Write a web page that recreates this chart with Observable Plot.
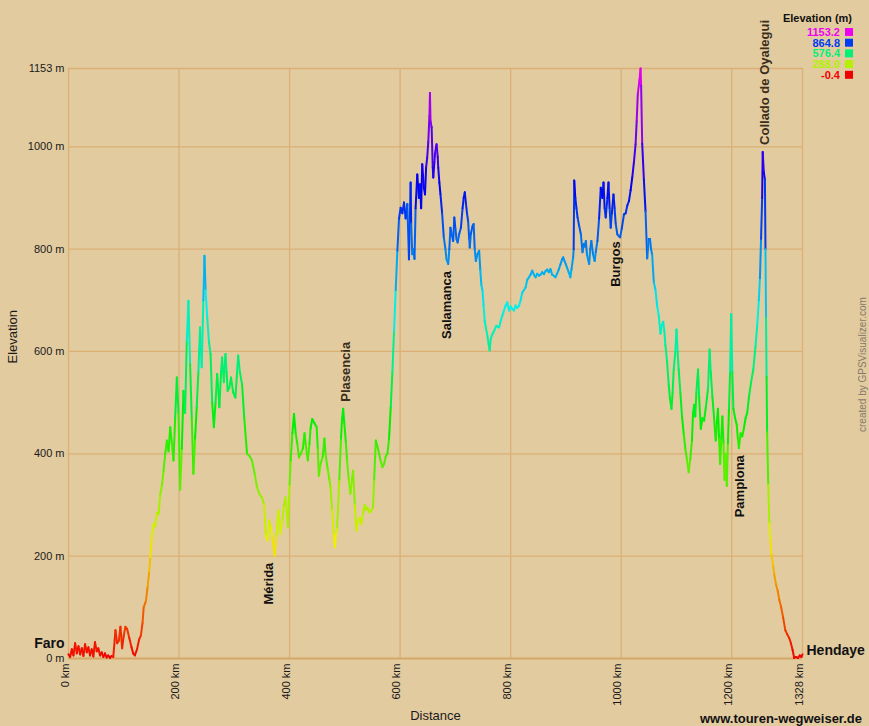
<!DOCTYPE html>
<html><head><meta charset="utf-8">
<script src="https://cdn.jsdelivr.net/npm/d3@7"></script>
<script src="https://cdn.jsdelivr.net/npm/@observablehq/plot@0.6"></script>
<style>body{margin:0;background:#e3cba0;} svg{display:block}</style>
</head><body><div id="chart"></div>
<script>
// [distance km, elevation m]
const profile = [
[0,8],[3,3],[6,18],[9,6],[12,30],[15,10],[18,24],[21,8],[24,20],[27,5],[30,28],[33,12],[36,22],[39,6],[42,18],[45,4],[48,32],[51,14],[54,20],[57,6],[60,12],[63,3],[66,10],[69,2],[72,6],[75,1],[78,5],[81,3],
[85,55],[88,30],[91,35],[94,62],[97,20],[100,45],[103,62],[106,58],[110,40],[114,22],[117,10],[120,6],[124,18],[128,38],[131,45],[134,70],[136,100],[140,112],[143,139],[146,170],[148,198],
[151,240],[154,263],[157,258],[160,285],[163,283],[166,320],[169,338],[172,367],[175,400],[178,426],[181,405],[184,452],[187,420],[190,387],[193,470],[196,549],[199,480],[202,330],[205,410],[208,523],
[211,480],[214,620],[217,699],[220,575],[223,470],[226,361],[229,430],[232,491],[235,560],[238,647],[241,569],[244,700],[246,787],[248,720],[251,667],[254,620],[257,595],[260,500],[263,452],[266,500],
[269,556],[272,510],[273,491],[276,560],[278,588],[281,540],[284,595],[286,560],[288,523],[291,530],[294,549],[298,520],[302,510],[305,560],[307,592],[310,560],[314,536],[318,470],[323,400],[328,395],
[332,387],[337,360],[341,335],[346,320],[350,315],[354,300],[357,240],[360,230],[363,270],[366,256],[369,235],[373,201],[376,240],[380,289],[383,243],[387,270],[390,300],[393,315],[397,256],[400,340],
[402,387],[405,440],[408,478],[411,440],[414,420],[417,393],[420,400],[424,410],[427,440],[429,419],[433,387],[436,420],[438,450],[441,468],[445,460],[449,452],[451,410],[453,357],[456,380],[460,395],
[463,430],[465,400],[469,370],[472,350],[474,335],[477,290],[480,240],[482,217],[484,245],[486,256],[490,350],[493,430],[495,470],[497,488],[499,460],[502,420],[504,387],[507,350],[510,322],[513,350],
[515,367],[518,300],[521,250],[524,270],[527,275],[530,263],[533,285],[536,300],[539,290],[541,295],[545,285],[548,290],[551,295],[553,350],[556,426],[560,410],[564,390],[568,374],[571,380],[574,395],
[577,400],[580,430],[583,491],[586,560],[589,640],[592,720],[595,797],[598,860],[601,881],[604,870],[607,891],[610,860],[613,888],[616,780],[619,930],[620,850],[622,790],[624,800],[626,781],[628,880],
[631,946],[634,900],[636,927],[638,880],[640,966],[643,920],[645,907],[647,960],[649,979],[651,1010],[653,1060],[654,1105],[655,1050],[657,1038],[659,960],[660,940],[662,970],[663,986],[665,1000],[666,1005],
[668,980],[669,959],[671,930],[673,907],[676,870],[679,823],[682,800],[684,780],[687,771],[689,800],[691,842],[693,830],[696,816],[698,862],[700,840],[702,820],[704,813],[707,830],[710,842],[713,880],
[715,900],[717,911],[719,890],[721,870],[723,855],[725,820],[726,803],[728,830],[731,845],[733,849],[735,800],[737,777],[740,790],[743,797],[745,760],[747,730],[749,719],[751,690],[753,660],[755,647],
[758,630],[760,615],[762,602],[764,625],[767,634],[770,640],[774,650],[777,648],[779,647],[782,660],[785,670],[788,680],[791,690],[794,696],[797,680],[800,688],[803,683],[806,680],[809,690],[812,685],
[815,689],[818,700],[821,715],[824,720],[827,725],[830,740],[833,745],[836,750],[839,758],[842,750],[845,745],[848,752],[851,748],[854,750],[857,755],[860,751],[863,757],[866,760],[869,755],[872,761],
[875,750],[878,748],[881,745],[884,752],[887,760],[890,770],[893,780],[895,784],[898,775],[900,770],[902,764],[905,755],[908,745],[910,760],[913,784],[914,800],[915,934],[917,900],[919,880],[921,862],
[924,845],[927,829],[930,794],[932,810],[934,805],[936,816],[938,790],[940,780],[942,771],[944,800],[946,816],[949,790],[952,777],[954,795],[957,816],[960,860],[963,920],[966,900],[968,930],[970,880],
[972,862],[975,900],[977,930],[979,880],[981,842],[983,870],[986,907],[988,880],[990,850],[993,829],[996,825],[998,823],[1001,840],[1005,868],[1008,870],[1011,885],[1014,894],[1017,915],[1020,940],[1023,970],
[1026,1005],[1028,1050],[1030,1103],[1033,1130],[1035,1153],[1036,1120],[1038,1006],[1041,936],[1044,874],[1047,782],[1050,820],[1052,820],[1054,800],[1056,789],[1059,735],[1062,720],[1065,689],[1068,670],[1071,635],[1073,650],
[1076,658],[1078,640],[1080,612],[1083,580],[1086,534],[1088,510],[1091,488],[1093,520],[1095,565],[1098,600],[1100,643],[1102,600],[1104,565],[1107,520],[1110,473],[1113,440],[1116,410],[1119,388],[1122,364],[1125,390],
[1128,426],[1130,480],[1132,496],[1134,473],[1136,520],[1139,565],[1141,510],[1144,449],[1147,470],[1150,465],[1153,490],[1157,527],[1160,604],[1162,560],[1165,511],[1168,470],[1171,426],[1173,460],[1175,488],[1177,430],
[1179,380],[1181,430],[1183,473],[1185,420],[1187,349],[1189,400],[1191,337],[1193,420],[1195,488],[1197,560],[1199,673],[1201,560],[1203,488],[1206,470],[1209,457],[1211,430],[1213,411],[1216,440],[1219,434],[1222,450],
[1225,470],[1228,480],[1231,510],[1235,540],[1239,565],[1243,610],[1246,650],[1249,700],[1251,743],[1253,820],[1255,900],[1256,990],[1258,950],[1260,936],[1261,800],[1262,666],[1263,550],[1264,442],[1266,340],[1268,264],
[1270,230],[1272,202],[1275,180],[1277,164],[1280,145],[1283,133],[1286,115],[1289,102],[1293,80],[1297,55],[1300,48],[1304,40],[1307,30],[1310,17],[1313,1],[1316,3],[1320,1],[1323,6],[1326,3],[1328,8]
];

const xTicks = [0, 200, 400, 600, 800, 1000, 1200, 1328];
const yTicks = [0, 200, 400, 600, 800, 1000, 1153];

const waypointNames = ["Mérida", "Plasencia", "Salamanca", "Burgos", "Pamplona", "Collado de Oyalegui"];
const waypointKm    = [363, 501, 685, 990, 1215, 1260];
const waypointElev  = [201, 488, 771, 829, 411, 990];
const waypointSide  = ["below", "above", "below", "below", "below", "above"];

const endNames = ["Faro", "Hendaye"];
const endKm = [0, 1328];
const endElev = [0, 0];

const legendTitle = "Elevation (m)";
const legendValues = [1153.2, 864.8, 576.4, 288.0, -0.4];
const elevMin = -0.4, elevMax = 1153.2;

// build tables
const segments = d3.pairs(profile).map(([a, b]) => ({x1: a[0], y1: a[1], x2: b[0], y2: b[1], e: (a[1] + b[1]) / 2}));
const waypoints = waypointNames.map((n, i) => ({name: n, km: waypointKm[i], elev: waypointElev[i], side: waypointSide[i]}));
const ends = endNames.map((n, i) => ({name: n, km: endKm[i], elev: endElev[i]}));

const gridColor = "#dab074";
const font = "'Liberation Sans', Arial, sans-serif";
const hueInterp = t => d3.hsl(300 * t, 1, 0.47).toString();

const chart = Plot.plot({
  width: 869, height: 726,
  marginTop: 68, marginRight: 67, marginBottom: 68, marginLeft: 68,
  style: {background: "#e3cba0", fontFamily: font, fontSize: "11px", color: "#1a1a1a", overflow: "visible"},
  x: {domain: [0, 1328], axis: null},
  y: {domain: [0, 1153], axis: null},
  color: {type: "linear", domain: [elevMin, elevMax], interpolate: hueInterp},
  marks: [
    Plot.ruleX(xTicks, {x: d => d, stroke: gridColor, strokeWidth: 1.3}),
    Plot.ruleY(yTicks.filter(d => d > 0), {y: d => d, stroke: gridColor, strokeWidth: 1.3}),
    Plot.ruleY([0], {y: d => d, stroke: "#d6a866", strokeWidth: 2.2}),
    Plot.text(yTicks, {y: d => d, frameAnchor: "left", textAnchor: "end", dx: -4, text: d => d + " m", fill: "#1a1a1a", fontSize: 11}),
    Plot.text(xTicks, {x: d => d, frameAnchor: "bottom", rotate: -90, textAnchor: "end", dy: 5, text: d => d + " km", fill: "#1a1a1a", fontSize: 11}),
    Plot.text(["Elevation"], {frameAnchor: "left", rotate: -90, dx: -56, text: d => d, fontSize: 13, fill: "#1a1a1a"}),
    Plot.text(["Distance"], {frameAnchor: "bottom", dy: 61, text: d => d, fontSize: 13, fill: "#1a1a1a"}),
    Plot.link(segments, {x1: "x1", y1: "y1", x2: "x2", y2: "y2", stroke: "e", strokeWidth: 2, strokeLinecap: "round"}),
    Plot.text(waypoints.filter(d => d.side === "below"), {x: "km", y: "elev", text: "name", rotate: -90, textAnchor: "end", dy: 7, fontSize: 13, fontWeight: "bold", fill: "#111"}),
    Plot.text(waypoints.filter(d => d.side === "above"), {x: "km", y: "elev", text: "name", rotate: -90, textAnchor: "start", dy: -7, fontSize: 13, fontWeight: "bold", fill: "#3a2e1c"}),
    Plot.text(ends.slice(0, 1), {x: "km", y: "elev", text: "name", textAnchor: "end", dx: -4, dy: -15, fontSize: 14, fontWeight: "bold", fill: "#111"}),
    Plot.text(ends.slice(1), {x: "km", y: "elev", text: "name", textAnchor: "start", dx: 4, dy: -8, fontSize: 14, fontWeight: "bold", fill: "#111"})
  ]
});
document.getElementById("chart").appendChild(chart);

// legend using the plot's color scale
let colorOf = hueInterp;
try {
  const cs = chart.scale("color");
  if (cs && cs.apply) colorOf = v => cs.apply(v);
} catch (e) {}
const svg = d3.select(chart);
const lg = svg.append("g").attr("font-family", font);
lg.append("text").attr("x", 852).attr("y", 22).attr("text-anchor", "end")
  .attr("font-size", 11).attr("font-weight", "bold").attr("fill", "#111").text(legendTitle);
legendValues.forEach((v, i) => {
  const cy = 32 + i * 10.7;
  lg.append("text").attr("x", 840).attr("y", cy + 4).attr("text-anchor", "end")
    .attr("font-size", 11).attr("font-weight", "bold").attr("fill", colorOf(v)).text(v.toFixed(1));
  lg.append("rect").attr("x", 845).attr("y", cy - 4).attr("width", 8).attr("height", 8).attr("fill", colorOf(v));
});
svg.append("text").attr("x", 862).attr("y", 723).attr("text-anchor", "end")
  .attr("font-family", font).attr("font-size", 13).attr("font-weight", "bold").attr("fill", "#111")
  .text("www.touren-wegweiser.de");
svg.append("text").attr("transform", "translate(866,432) rotate(-90)").attr("text-anchor", "start")
  .attr("font-family", font).attr("font-size", 10).attr("fill", "#857a6a")
  .text("created by GPSVisualizer.com");
</script>
</body></html>
